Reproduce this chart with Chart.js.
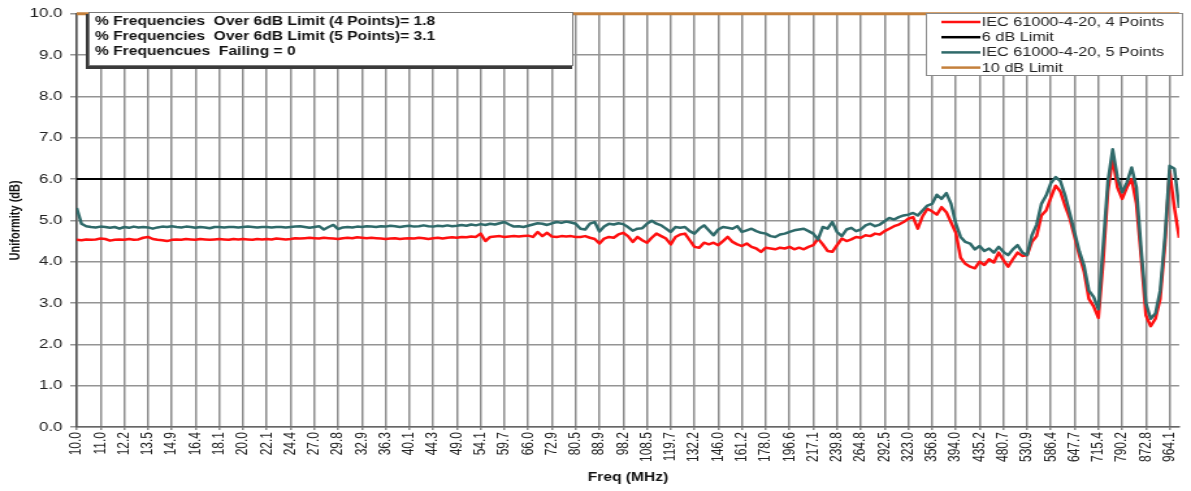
<!DOCTYPE html>
<html>
<head>
<meta charset="utf-8">
<script src="https://cdn.jsdelivr.net/npm/chart.js@4.4.1/dist/chart.umd.min.js"></script>
<style>
  html, body { margin: 0; padding: 0; background: #fff; overflow: hidden; }
  /* the original picture is stretched sideways, so the canvas is too */
  #wrap { width: 916px; height: 491px; transform: scaleX(1.30022); transform-origin: 0 0; }
</style>
</head>
<body>
<div id="wrap"><canvas id="uniformity" width="916" height="491"></canvas></div>
<script>
// sweep index step between stored samples (1 index = one frequency step)
const STEP = 2;

const freqTicks = ['10.0','11.0','12.2','13.5','14.9','16.4','18.1','20.0','22.1','24.4',
  '27.0','29.8','32.9','36.3','40.1','44.3','49.0','54.1','59.7','66.0',
  '72.9','80.5','88.9','98.2','108.5','119.7','132.2','146.0','161.2','178.0',
  '196.6','217.1','239.8','264.8','292.5','323.0','356.8','394.0','435.2','480.7',
  '530.9','586.4','647.7','715.4','790.2','872.8','964.1'];

// IEC 61000-4-20, 4 points
const red4pt = [
  4.53,4.52,4.54,4.53,4.54,4.56,4.55,4.51,4.53,4.54,
  4.53,4.55,4.53,4.54,4.58,4.60,4.55,4.53,4.52,4.50,
  4.53,4.54,4.53,4.55,4.54,4.53,4.55,4.54,4.53,4.54,
  4.55,4.54,4.53,4.55,4.54,4.55,4.54,4.53,4.55,4.54,
  4.55,4.54,4.56,4.55,4.54,4.55,4.57,4.56,4.57,4.58,
  4.57,4.56,4.58,4.57,4.56,4.55,4.57,4.58,4.57,4.59,
  4.58,4.57,4.58,4.57,
  4.56,4.55,4.56,4.57,4.55,4.56,4.57,4.56,4.58,4.57,
  4.55,4.57,4.58,4.56,4.58,4.59,4.58,4.60,4.59,4.61,
  4.60,4.68,4.50,4.60,4.61,4.62,4.60,4.61,4.62,4.61,
  4.62,4.63,4.60,4.72,4.62,4.70,4.61,4.60,4.62,4.61,
  4.62,4.60,4.60,4.62,4.58,4.55,4.44,4.56,4.60,4.58,
  4.66,4.70,4.62,4.48,4.60,4.52,4.46,4.58,4.68,4.62,
  4.56,4.42,
  4.60,4.66,4.68,4.52,4.36,4.34,4.46,4.42,4.46,4.40,
  4.50,4.60,4.48,4.42,4.38,4.44,4.36,4.32,4.24,4.34,
  4.32,4.30,4.34,4.32,4.36,4.30,4.34,4.30,4.36,4.40,
  4.56,4.42,4.26,4.24,4.40,4.56,4.50,4.54,4.60,4.58,
  4.64,4.62,4.68,4.66,4.74,4.80,4.86,4.90,4.96,
  5.04,5.08,4.80,5.10,5.28,5.22,5.14,5.32,5.20,4.95,
  4.70,4.10,3.95,3.88,3.84,4.00,3.92,4.06,3.98,4.22,
  4.04,3.88,4.06,4.22,4.14,4.16,4.48,4.62,5.12,5.24,
  5.55,5.84,5.70,5.35,5.04,4.60,4.15,3.75,3.10,2.92,
  2.64,4.00,5.70,6.50,5.80,5.52,5.80,6.00,5.40,4.10,
  2.70,2.44,2.62,3.10,4.40,6.20,5.30,4.58];

// IEC 61000-4-20, 5 points
const teal5pt = [
  5.30,4.92,4.86,4.84,4.83,4.85,4.84,4.82,4.84,4.80,
  4.84,4.82,4.85,4.83,4.84,4.83,4.80,4.83,4.85,4.84,
  4.86,4.84,4.83,4.85,4.84,4.82,4.84,4.83,4.81,4.84,
  4.84,4.83,4.84,4.84,4.83,4.84,4.85,4.84,4.83,4.84,
  4.84,4.83,4.84,4.84,4.83,4.84,4.85,4.86,4.84,4.82,
  4.84,4.86,4.78,4.84,4.89,4.79,4.83,4.84,4.83,4.85,
  4.84,4.86,4.85,4.84,
  4.86,4.85,4.87,4.86,4.84,4.86,4.87,4.85,4.86,4.88,
  4.86,4.85,4.87,4.86,4.88,4.86,4.87,4.89,4.87,4.90,
  4.88,4.91,4.89,4.92,4.90,4.93,4.96,4.90,4.85,4.86,
  4.84,4.87,4.90,4.93,4.92,4.89,4.93,4.96,4.94,4.97,
  4.95,4.92,4.80,4.78,4.92,4.96,4.73,4.85,4.92,4.90,
  4.93,4.91,4.84,4.75,4.80,4.81,4.92,4.99,4.92,4.88,
  4.80,4.72,
  4.84,4.82,4.84,4.74,4.68,4.80,4.88,4.76,4.64,4.78,
  4.84,4.82,4.80,4.86,4.72,4.76,4.80,4.74,4.70,4.68,
  4.62,4.60,4.66,4.68,4.72,4.76,4.78,4.80,4.74,4.68,
  4.54,4.84,4.80,4.96,4.72,4.62,4.78,4.82,4.74,4.78,
  4.88,4.92,4.86,4.90,4.98,5.06,5.02,5.08,5.12,
  5.14,5.18,5.12,5.24,5.36,5.40,5.62,5.52,5.66,5.40,
  4.92,4.60,4.48,4.44,4.30,4.38,4.26,4.32,4.22,4.36,
  4.24,4.16,4.30,4.40,4.22,4.16,4.64,4.90,5.40,5.60,
  5.90,6.05,5.95,5.60,5.16,4.70,4.25,3.90,3.30,3.15,
  2.85,4.40,5.95,6.72,6.05,5.68,5.92,6.28,5.80,4.30,
  3.00,2.62,2.75,3.30,4.60,6.32,6.25,5.30];

const limit6 = 6;
const limit10 = 10;

const statLines = [
  '% Frequencies  Over 6dB Limit (4 Points)= 1.8',
  '% Frequencies  Over 6dB Limit (5 Points)= 3.1',
  '% Frequencues  Failing = 0'
];

const XMAX = (red4pt.length - 1) * STEP;
const FONT = '"Liberation Sans", Arial, sans-serif';

function toPoints(vals) {
  return vals.map((v, k) => ({ x: k * STEP, y: v }));
}
function flat(v) {
  return [{ x: 0, y: v }, { x: XMAX, y: v }];
}

// stats text box and legend drawn inside the plot, like the Excel original
const insetBoxes = {
  id: 'insetBoxes',
  afterDraw(chart) {
    const ctx = chart.ctx;
    ctx.save();

    // stats box with a small drop shadow
    ctx.fillStyle = '#3a3a3a';
    ctx.fillRect(66, 14, 374, 55);
    ctx.fillStyle = '#fff';
    ctx.fillRect(68, 12, 373, 54);
    ctx.strokeStyle = '#777';
    ctx.lineWidth = 1;
    ctx.strokeRect(68.5, 12.5, 372, 53);
    ctx.font = 'bold 12px ' + FONT;
    ctx.fillStyle = '#111';
    ctx.textBaseline = 'middle';
    statLines.forEach((t, k) => ctx.fillText(t, 73, 22 + k * 14.6));

    // legend
    ctx.fillStyle = '#fff';
    ctx.fillRect(712, 13, 198, 63);
    ctx.strokeStyle = '#8a8a8a';
    ctx.strokeRect(712.5, 13.5, 197, 62);
    ctx.font = '12.5px ' + FONT;
    chart.data.datasets.forEach((ds, k) => {
      const y = 22 + k * 15.2;
      ctx.strokeStyle = ds.borderColor;
      ctx.lineWidth = 2.5;
      ctx.beginPath();
      ctx.moveTo(724, y);
      ctx.lineTo(754, y);
      ctx.stroke();
      ctx.fillStyle = '#222';
      ctx.fillText(ds.label, 755, y + 0.5);
    });
    ctx.restore();
  }
};

new Chart(document.getElementById('uniformity'), {
  type: 'line',
  data: {
    datasets: [
      { label: 'IEC 61000-4-20, 4 Points', data: toPoints(red4pt), borderColor: '#ff1010', borderWidth: 2.5, order: 1 },
      { label: '6 dB Limit', data: flat(limit6), borderColor: '#000000', borderWidth: 2, order: 2 },
      { label: 'IEC 61000-4-20, 5 Points', data: toPoints(teal5pt), borderColor: '#2f6a6a', borderWidth: 2.5, order: 0 },
      { label: '10 dB Limit', data: flat(limit10), borderColor: '#c4803c', borderWidth: 3, order: 3, clip: false }
    ]
  },
  options: {
    responsive: false,
    animation: false,
    events: [],
    layout: { padding: { top: 10, right: 1, left: 0, bottom: 0 } },
    elements: {
      point: { radius: 0 },
      line: { tension: 0, borderJoinStyle: 'round', fill: false }
    },
    plugins: {
      legend: { display: false },
      tooltip: { enabled: false }
    },
    scales: {
      x: {
        type: 'linear',
        min: 0,
        max: XMAX,
        afterFit(scale) { scale.height = 64; },
        afterBuildTicks(scale) {
          scale.ticks = freqTicks.map((_, k) => ({ value: k * 10 }));
        },
        ticks: {
          autoSkip: false,
          minRotation: 90,
          maxRotation: 90,
          padding: 2,
          color: '#222',
          font: { family: FONT, size: 12 },
          callback: (v) => freqTicks[Math.round(v / 10)]
        },
        grid: { color: '#8c8c8c', lineWidth: 1.5, tickLength: 3 },
        border: { color: '#666', width: 1.5 },
        title: {
          display: true,
          text: 'Freq (MHz)',
          color: '#111',
          font: { family: FONT, size: 12, weight: 'bold' },
          padding: { top: 0, bottom: 6 }
        }
      },
      y: {
        min: 0,
        max: 10,
        afterFit(scale) { scale.width = 59; },
        ticks: {
          stepSize: 1,
          padding: 6,
          color: '#222',
          font: { family: FONT, size: 13 },
          callback: (v) => v.toFixed(1)
        },
        grid: { color: '#949494', lineWidth: 1.5, tickLength: 5 },
        border: { color: '#555', width: 1.5 },
        title: {
          display: true,
          text: 'Uniformity (dB)',
          color: '#111',
          font: { family: FONT, size: 11, weight: 'bold' },
          padding: { top: 5, bottom: 0 }
        }
      }
    }
  },
  plugins: [insetBoxes]
});
</script>
</body>
</html>
